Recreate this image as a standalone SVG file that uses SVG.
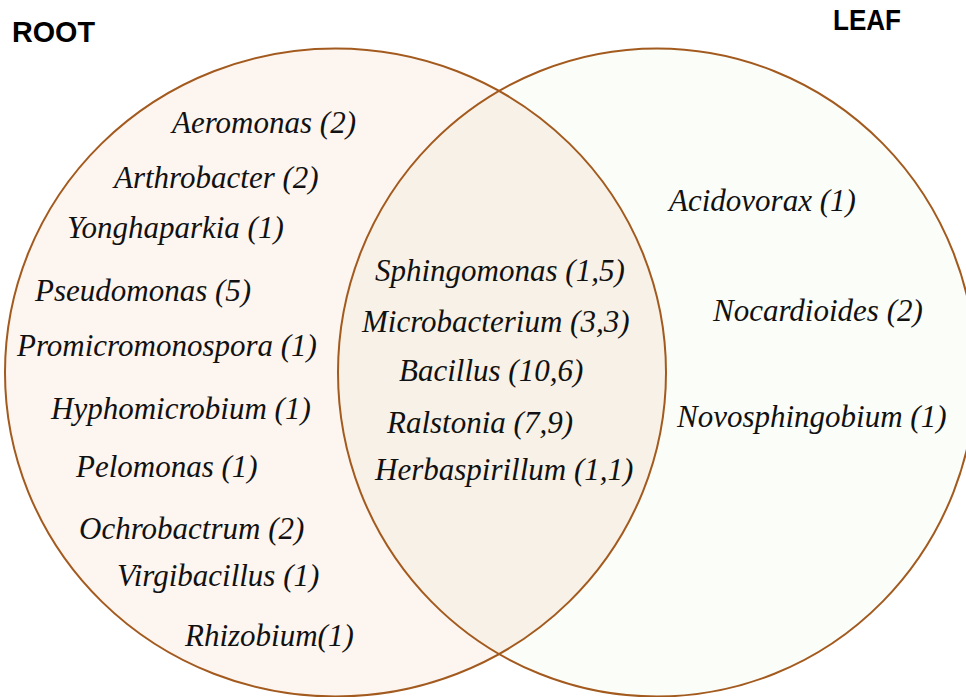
<svg xmlns="http://www.w3.org/2000/svg" width="966" height="697" viewBox="0 0 966 697">
<style>
.lbl{font-family:"Liberation Serif","Times New Roman",serif;font-style:italic;font-size:31px;fill:#111}
.title{font-family:"Liberation Sans",Arial,sans-serif;font-weight:bold;font-size:30px;fill:#000}
.ring{fill:none;stroke:#A35A1E;stroke-width:2}
</style>
<defs>
<clipPath id="clipL"><ellipse cx="335.5" cy="372.5" rx="330.5" ry="324"/></clipPath>
</defs>
<rect width="966" height="697" fill="#FFFFFF"/>
<g id="root-set">
<ellipse cx="335.5" cy="372.5" rx="330.5" ry="324" fill="#FDF5EF"/>
</g>
<g id="leaf-set">
<ellipse cx="657" cy="372.5" rx="319" ry="324" fill="#FBFDF8"/>
</g>
<g id="overlap">
<ellipse cx="657" cy="372.5" rx="319" ry="324" fill="#F8F1E7" clip-path="url(#clipL)"/>
</g>
<g id="outlines">
<ellipse class="ring" cx="335.5" cy="372.5" rx="330.5" ry="324"/>
<ellipse class="ring" cx="657" cy="372.5" rx="319" ry="324"/>
</g>
<g id="titles">
<text class="title" x="12" y="42" textLength="83" lengthAdjust="spacingAndGlyphs">ROOT</text>
<text class="title" x="833" y="30" textLength="68" lengthAdjust="spacingAndGlyphs">LEAF</text>
</g>
<g id="root-only">
<text class="lbl" x="172" y="133">Aeromonas (2)</text>
<text class="lbl" x="114" y="188">Arthrobacter (2)</text>
<text class="lbl" x="67" y="238">Yonghaparkia (1)</text>
<text class="lbl" x="35" y="301">Pseudomonas (5)</text>
<text class="lbl" x="17" y="356">Promicromonospora (1)</text>
<text class="lbl" x="51" y="419">Hyphomicrobium (1)</text>
<text class="lbl" x="76" y="477">Pelomonas (1)</text>
<text class="lbl" x="79" y="539">Ochrobactrum (2)</text>
<text class="lbl" x="117" y="586">Virgibacillus (1)</text>
<text class="lbl" x="185" y="646">Rhizobium(1)</text>
</g>
<g id="shared">
<text class="lbl" x="375" y="281">Sphingomonas (1,5)</text>
<text class="lbl" x="362" y="332">Microbacterium (3,3)</text>
<text class="lbl" x="399" y="381">Bacillus (10,6)</text>
<text class="lbl" x="387" y="433">Ralstonia (7,9)</text>
<text class="lbl" x="375" y="480">Herbaspirillum (1,1)</text>
</g>
<g id="leaf-only">
<text class="lbl" x="669" y="211">Acidovorax (1)</text>
<text class="lbl" x="713" y="321">Nocardioides (2)</text>
<text class="lbl" x="677" y="427">Novosphingobium (1)</text>
</g>
</svg>
